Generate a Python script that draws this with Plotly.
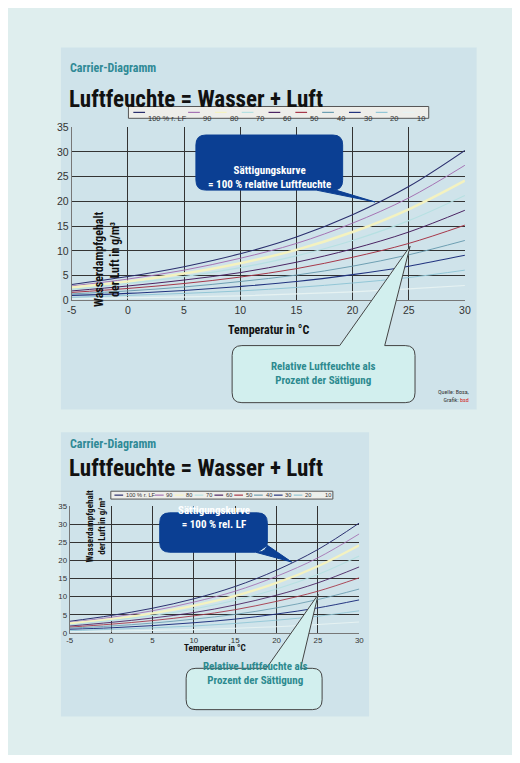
import plotly.graph_objects as go

W, H = 520, 763
M = 8  # browser body margin
FW, FH = W - 2 * M, H - 2 * M

temps = [-5, 0, 5, 10, 15, 20, 25, 30]
temp_labels = ['-5', '0', '5', '10', '15', '20', '25', '30']
rh_labels = ['100 % r. LF', '90', '80', '70', '60', '50', '40', '30', '20', '10']
rh_100 = [3.2, 4.8, 6.8, 9.4, 12.8, 17.3, 23.0, 30.3]
rh_90 = [2.9, 4.3, 6.1, 8.5, 11.5, 15.6, 20.7, 27.3]
rh_80 = [2.6, 3.8, 5.4, 7.5, 10.2, 13.8, 18.4, 24.2]
rh_70 = [2.2, 3.4, 4.8, 6.6, 9.0, 12.1, 16.1, 21.2]
rh_60 = [1.9, 2.9, 4.1, 5.6, 7.7, 10.4, 13.8, 18.2]
rh_50 = [1.6, 2.4, 3.4, 4.7, 6.4, 8.7, 11.5, 15.2]
rh_40 = [1.3, 1.9, 2.7, 3.8, 5.1, 6.9, 9.2, 12.1]
rh_30 = [1.0, 1.4, 2.0, 2.8, 3.8, 5.2, 6.9, 9.1]
rh_20 = [0.6, 1.0, 1.4, 1.9, 2.6, 3.5, 4.6, 6.1]
rh_10 = [0.3, 0.5, 0.7, 0.9, 1.3, 1.7, 2.3, 3.0]
series = [rh_100, rh_90, rh_80, rh_70, rh_60, rh_50, rh_40, rh_30, rh_20, rh_10]
colors = ['#2b2f6e', '#a574b4', '#f4f2c0', '#b6e0e2', '#4b2463', '#a6384a',
          '#6e9fb2', '#22347f', '#92c6d6', '#e6f2f2']
widths = [1.1, 1, 2.5, 1.2, 1, 1, 1, 1.1, 1, 1.2]

FONT = 'Liberation Sans Narrow, Roboto Condensed, Liberation Sans, sans-serif'


def px(x):
    return (x - M) / FW


def py(y):
    return 1 - (y - M) / FH


fig = go.Figure()
shapes = []
annos = []

# page panels
shapes.append(dict(type='rect', xref='paper', yref='paper', x0=px(57), x1=px(482),
                   y0=py(410), y1=py(42), fillcolor='#cfe3ea', line_width=0, layer='below'))
shapes.append(dict(type='rect', xref='paper', yref='paper', x0=px(57), x1=px(372),
                   y0=py(722), y1=py(433), fillcolor='#cfe3ea', line_width=0, layer='below'))

panels = [
    dict(xd=(68, 470), yd=(123, 299), ax='', top=42, sc=1.0),
    dict(xd=(66, 362), yd=(508, 637), ax='2', top=433, sc=0.74),
]

for p in panels:
    sc = p['sc']
    for i, ys in enumerate(series):
        fig.add_trace(go.Scatter(
            x=temps, y=ys, mode='lines', line_shape='spline', name=rh_labels[i],
            line=dict(color=colors[i], width=widths[i] * (0.9 if sc < 1 else 1)),
            xaxis='x' + p['ax'], yaxis='y' + p['ax'], showlegend=False, hoverinfo='skip'))
    axis = dict(showgrid=True, gridcolor='#333333', gridwidth=0.8, zeroline=False,
                showline=True, linecolor='#777777', ticks='', mirror=False,
                tickfont=dict(family='Liberation Sans, sans-serif', size=10 * sc + 0.5, color='#333'))
    fig.layout['xaxis' + p['ax']] = dict(axis, domain=[px(p['xd'][0]), px(p['xd'][1])],
                                         range=[-5, 30], tickvals=temps, ticktext=temp_labels,
                                         anchor='y' + p['ax'])
    fig.layout['yaxis' + p['ax']] = dict(axis, domain=[py(p['yd'][1]), py(p['yd'][0])],
                                         range=[0, 35], dtick=5, anchor='x' + p['ax'])

    top = p['top']
    annos.append(dict(x=px(64), y=py(top + 12), text='<b>Carrier-Diagramm</b>', xanchor='left',
                      font=dict(family=FONT, size=12, color='#2f8a96')))
    annos.append(dict(x=px(63), y=py(top + 37), text='<b>Luftfeuchte = Wasser + Luft</b>',
                      xanchor='left', font=dict(family=FONT, size=23, color='#111')))

    # legend
    x0, x1 = p['xd']
    lx0 = 126 if sc == 1 else 108
    lx1 = 433 if sc == 1 else 335
    ly = 108 if sc == 1 else 497
    lh = 12 if sc == 1 else 8
    shapes.append(dict(type='rect', xref='paper', yref='paper', x0=px(lx0), x1=px(lx1),
                       y0=py(ly + lh / 2), y1=py(ly - lh / 2), fillcolor='#eeeeea',
                       line=dict(color='#555', width=1)))
    step = (lx1 - lx0) / 11.2
    for i, lab in enumerate(rh_labels):
        if i == 0:
            sx = lx0 + 5 * sc
        else:
            sx = lx0 + 61 * sc + (i - 1) * step
        shapes.append(dict(type='line', xref='paper', yref='paper', x0=px(sx), x1=px(sx + 12 * sc),
                           y0=py(ly), y1=py(ly), line=dict(color=colors[i], width=1.2)))
        annos.append(dict(x=px(sx + 13 * sc), y=py(ly), text=lab, xanchor='left',
                          font=dict(family='Liberation Sans, sans-serif', size=7 * sc + 0.5, color='#333')))

    # axis titles
    xm = (x0 + x1) / 2
    annos.append(dict(x=px(xm), y=py(p['yd'][1] + 30 * sc), text='<b>Temperatur in °C</b>',
                      font=dict(family=FONT, size=11 * sc + 1, color='#111')))
    annos.append(dict(x=px(x0 + 19 * sc), y=py((p['yd'][0] + p['yd'][1]) / 2 - 5),
                      text='<b>Wasserdampfgehalt<br>der Luft in g/m³</b>', textangle=-90,
                      font=dict(family=FONT, size=11 * sc + 1, color='#111')))


def callout(box, tip, base, fill, line):
    bx0, by0, bx1, by1 = box
    r = 10
    if base[0][1] < by1:  # pointer from top edge
        d = (f'M {px(bx0 + r)},{py(by0)} L {px(base[0][0])},{py(by0)} L {px(tip[0])},{py(tip[1])} '
             f'L {px(base[1][0])},{py(by0)} L {px(bx1 - r)},{py(by0)} '
             f'Q {px(bx1)},{py(by0)} {px(bx1)},{py(by0 + r)} '
             f'L {px(bx1)},{py(by1 - r)} Q {px(bx1)},{py(by1)} {px(bx1 - r)},{py(by1)} '
             f'L {px(bx0 + r)},{py(by1)} Q {px(bx0)},{py(by1)} {px(bx0)},{py(by1 - r)} '
             f'L {px(bx0)},{py(by0 + r)} Q {px(bx0)},{py(by0)} {px(bx0 + r)},{py(by0)} Z')
    else:
        d = (f'M {px(bx0 + r)},{py(by0)} L {px(bx1 - r)},{py(by0)} '
             f'Q {px(bx1)},{py(by0)} {px(bx1)},{py(by0 + r)} '
             f'L {px(bx1)},{py(by1 - r)} Q {px(bx1)},{py(by1)} {px(bx1 - r)},{py(by1)} '
             f'L {px(base[1][0])},{py(base[1][1])} L {px(tip[0])},{py(tip[1])} '
             f'L {px(base[0][0])},{py(base[0][1])} '
             f'L {px(bx0 + r)},{py(by1)} Q {px(bx0)},{py(by1)} {px(bx0)},{py(by1 - r)} '
             f'L {px(bx0)},{py(by0 + r)} Q {px(bx0)},{py(by0)} {px(bx0 + r)},{py(by0)} Z')
    shapes.append(dict(type='path', xref='paper', yref='paper', path=d, fillcolor=fill,
                       line=dict(color=line, width=1)))


callout((195, 131, 345, 187), (378, 199), ((318, 187), (338, 187)), '#0b3f93', '#0b3f93')
annos.append(dict(x=px(270), y=py(158), text='<b>Sättigungskurve<br>= 100 % relative Luftfeuchte</b>',
                  font=dict(family=FONT, size=11, color='white')))
callout((232, 345, 419, 403), (414, 244), ((342, 345), (388, 345)), '#d2efee', '#444')
annos.append(dict(x=px(325), y=py(373), text='<b>Relative Luftfeuchte als<br>Prozent der Sättigung</b>',
                  font=dict(family=FONT, size=11, color='#2d8a8f')))

callout((158, 515, 268, 555), (293, 565), ((256, 555), (268, 548)), '#0b3f93', '#0b3f93')
annos.append(dict(x=px(213), y=py(535), text='<b>Sättigungskurve<br>= 100 % rel. LF</b>',
                  font=dict(family=FONT, size=11, color='white')))
callout((185, 673, 324, 715), (320, 598), ((267, 673), (302, 673)), '#d2efee', '#444')
annos.append(dict(x=px(255), y=py(694), text='<b>Relative Luftfeuchte als<br>Prozent der Sättigung</b>',
                  font=dict(family=FONT, size=11, color='#2d8a8f')))

annos.append(dict(x=px(476), y=py(396), xanchor='right', align='right',
                  text='Quelle: Bosa,<br>Grafik: <span style="color:#d02020">bsd</span>',
                  font=dict(family=FONT, size=6, color='#333')))

for a in annos:
    a.setdefault('xref', 'paper')
    a.setdefault('yref', 'paper')
    a['showarrow'] = False

fig.update_layout(
    width=FW, height=FH, margin=dict(l=0, r=0, t=0, b=0),
    paper_bgcolor='#dfeeee', plot_bgcolor='#eeece6',
    shapes=shapes, annotations=annos, showlegend=False,
)

fig.write_html("out.html")
